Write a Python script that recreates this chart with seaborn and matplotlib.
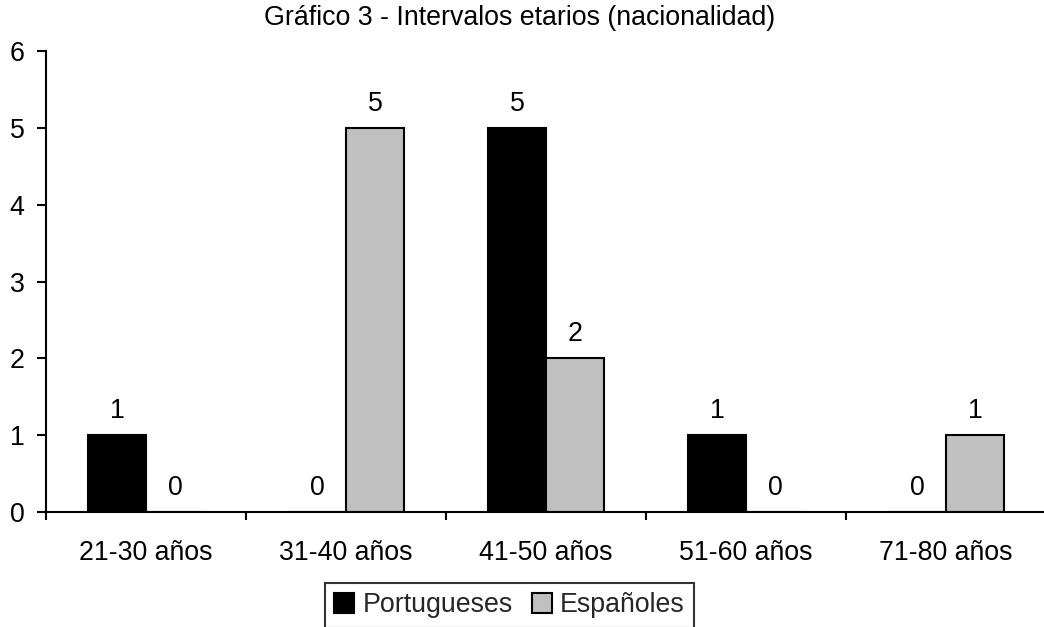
import matplotlib
matplotlib.use("Agg")
import matplotlib.pyplot as plt
import seaborn as sns
import pandas as pd
import numpy as np
from matplotlib.ticker import FixedLocator, NullFormatter, FixedFormatter

categories = ["21-30 años", "31-40 años", "41-50 años", "51-60 años", "71-80 años"]
portugueses = [1, 0, 5, 1, 0]
espanoles = [0, 5, 2, 0, 1]
series_names = ["Portugueses", "Españoles"]
colors = ["#000000", "#C0C0C0"]
title = "Gráfico 3 - Intervalos etarios (nacionalidad)"

sns.set_theme(style="white")
plt.rcParams["font.family"] = ["Liberation Sans", "DejaVu Sans"]

df = pd.DataFrame({
    "cat": categories * 2,
    "val": portugueses + espanoles,
    "serie": [series_names[0]] * len(categories) + [series_names[1]] * len(categories),
})

W, H = 1044, 627
fig = plt.figure(figsize=(W / 100, H / 100), dpi=100)
ax = fig.add_axes([46 / W, 1 - 512 / H, 1000 / W, 461 / H])

sns.barplot(data=df, x="cat", y="val", hue="serie", hue_order=series_names,
            order=categories, palette=colors, width=0.58, gap=0,
            edgecolor="black", linewidth=1.5, saturation=1, ax=ax, legend=True)

FS = 19.3
for cont in ax.containers:
    ax.bar_label(cont, fmt="%d", padding=8, fontsize=FS, color="black")

ax.set_xlim(-0.5, len(categories) - 0.5)
ax.set_ylim(0, 6)
ax.set_yticks(range(0, 7))
ax.tick_params(axis="y", direction="out", length=6.5, width=1.5, labelsize=FS, pad=9, colors="black", left=True)
ax.xaxis.set_major_locator(FixedLocator(np.arange(-0.5, len(categories), 1.0)))
ax.xaxis.set_major_formatter(NullFormatter())
ax.xaxis.set_minor_locator(FixedLocator(np.arange(len(categories))))
ax.xaxis.set_minor_formatter(FixedFormatter(categories))
ax.tick_params(axis="x", which="major", direction="out", length=6, width=1.5, bottom=True, colors="black")
ax.tick_params(axis="x", which="minor", length=0, labelsize=FS, pad=20.5, bottom=True, labelcolor="black")
ax.set_xlabel("")
ax.set_ylabel("")
for s in ["top", "right"]:
    ax.spines[s].set_visible(False)
for s in ["left", "bottom"]:
    ax.spines[s].set_color("black")
    ax.spines[s].set_linewidth(1.5)

handles, labels = ax.get_legend_handles_labels()
ax.get_legend().remove()
leg = fig.legend(handles, labels, loc="upper left", bbox_to_anchor=(325 / W, 1 - 583 / H),
                 bbox_transform=fig.transFigure, ncol=2, fontsize=FS, frameon=True,
                 fancybox=False, borderaxespad=0, borderpad=0.35, handlelength=0.75,
                 handleheight=0.75, handletextpad=0.3, columnspacing=0.7)
leg.get_frame().set_edgecolor("black")
leg.get_frame().set_linewidth(1.5)

fig.text(520 / W, 1 - 18 / H, title, ha="center", va="center", fontsize=FS, color="black")

fig.savefig("out.png", dpi=100)
